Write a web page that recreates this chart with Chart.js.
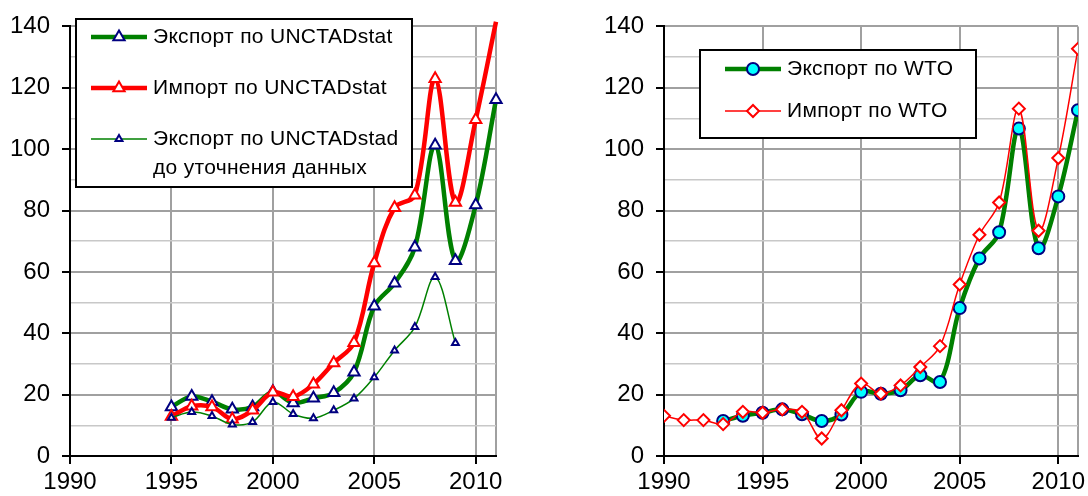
<!DOCTYPE html>
<html lang="ru">
<head>
<meta charset="UTF-8">
<title>Экспорт и импорт</title>
<script src="https://cdn.jsdelivr.net/npm/chart.js"></script>
<style>
  html, body { margin: 0; background: #ffffff; overflow: hidden; }
  .panel { position: absolute; top: 0; width: 544px; height: 496px; }
  .panel canvas { display: block; }
  #left { left: 0; }
  #right { left: 544px; }
</style>
</head>
<body>
<div class="panel" id="left"><canvas id="chartLeft" width="544" height="496"></canvas></div>
<div class="panel" id="right"><canvas id="chartRight" width="544" height="496"></canvas></div>

<script>
// ---- data ----
const yearsUnctad = [1995, 1996, 1997, 1998, 1999, 2000, 2001, 2002, 2003, 2004, 2005, 2006, 2007, 2008, 2009, 2010, 2011];
const exportUnctad = [16.0, 19.4, 17.7, 15.2, 16.0, 20.9, 17.3, 18.8, 20.6, 27.3, 48.8, 56.3, 68.0, 101.3, 63.6, 81.8, 116.1];
const importUnctad = [12.9, 16.2, 16.0, 12.0, 14.9, 20.8, 19.3, 23.4, 30.3, 36.9, 62.9, 80.9, 85.0, 122.9, 82.6, 109.6, 141.5];

const yearsOld = [1995, 1996, 1997, 1998, 1999, 2000, 2001, 2002, 2003, 2004, 2005, 2006, 2007, 2008, 2009];
const exportOld = [12.5, 14.3, 13.0, 10.3, 11.1, 17.6, 13.7, 12.3, 14.9, 18.7, 25.7, 34.4, 42.0, 58.3, 36.8];

const yearsWtoImport = [1990, 1991, 1992, 1993, 1994, 1995, 1996, 1997, 1998, 1999, 2000, 2001, 2002, 2003, 2004, 2005, 2006, 2007, 2008, 2009, 2010, 2011];
const importWto = [13.1, 11.7, 11.7, 10.4, 14.4, 14.1, 15.2, 14.4, 5.7, 14.9, 23.6, 20.3, 23.0, 29.0, 35.8, 55.9, 72.1, 82.6, 113.2, 73.4, 97.1, 132.7];

const yearsWtoExport = [1993, 1994, 1995, 1996, 1997, 1998, 1999, 2000, 2001, 2002, 2003, 2004, 2005, 2006, 2007, 2008, 2009, 2010, 2011];
const exportWto = [11.4, 13.1, 14.1, 15.2, 13.6, 11.4, 13.5, 20.9, 20.3, 21.4, 26.3, 24.1, 48.2, 64.4, 72.9, 106.7, 67.7, 84.6, 112.7];

const xTicks = [1990, 1995, 2000, 2005, 2010, 2011];
const yTicks = [0, 10, 20, 30, 40, 50, 60, 70, 80, 90, 100, 110, 120, 130, 140];

const labelsLeft = ['Экспорт по UNCTADstat', 'Импорт по UNCTADstat', ['Экспорт по UNCTADstad', 'до уточнения данных']];
const labelsRight = ['Экспорт по WTO', 'Импорт по WTO'];

const FONT = 'Arial, "Liberation Sans", sans-serif';
const GREEN = '#008000', RED = '#ff0000', NAVY = '#000080', CYAN = '#00ffff';

function pts(xs, ys) {
  return xs.map((x, i) => ({ x: x, y: ys[i] }));
}

// legend drawn inside the plot, in a framed box
const boxLegend = {
  id: 'boxLegend',
  afterDatasetsDraw(chart, args, opts) {
    const ctx = chart.ctx;
    const [l, t, r, b] = opts.box;
    ctx.save();
    ctx.fillStyle = '#ffffff';
    ctx.fillRect(l, t, r - l, b - t);
    ctx.strokeStyle = '#000000';
    ctx.lineWidth = 2;
    ctx.strokeRect(l, t, r - l, b - t);

    opts.rows.forEach(row => {
      const ds = chart.data.datasets[row.ds];
      ctx.strokeStyle = ds.borderColor;
      ctx.lineWidth = ds.borderWidth;
      ctx.beginPath();
      ctx.moveTo(opts.lineX[0], row.y);
      ctx.lineTo(opts.lineX[1], row.y);
      ctx.stroke();

      const mx = (opts.lineX[0] + opts.lineX[1]) / 2;
      ctx.fillStyle = ds.pointBackgroundColor;
      ctx.strokeStyle = ds.pointBorderColor;
      ctx.lineWidth = ds.pointBorderWidth;
      Chart.helpers.drawPoint(ctx, {
        pointStyle: ds.pointStyle, radius: ds.legendRadius,
        rotation: 0, borderWidth: ds.pointBorderWidth
      }, mx, row.y);

      ctx.fillStyle = '#000000';
      ctx.font = '21px ' + FONT;
      if ('letterSpacing' in ctx) ctx.letterSpacing = '0.3px';
      ctx.textBaseline = 'middle';
      ctx.textAlign = 'left';
      const lines = Array.isArray(ds.label) ? ds.label : [ds.label];
      lines.forEach((s, k) => ctx.fillText(s, opts.textX, row.y + k * opts.lineGap));
    });
    ctx.restore();
  }
};

function makeChart(id, datasets, yWidth, padRight, legend) {
  return new Chart(document.getElementById(id), {
    type: 'line',
    data: { datasets: datasets },
    options: {
      responsive: false,
      animation: false,
      layout: { padding: { left: 0, right: padRight, top: 25, bottom: 0 } },
      plugins: { legend: { display: false }, tooltip: { enabled: false }, boxLegend: legend },
      scales: {
        x: {
          type: 'linear', min: 1990, max: 2011,
          afterBuildTicks: s => { s.ticks = xTicks.map(v => ({ value: v })); },
          afterFit: s => { s.height = 40; },
          grid: {
            color: '#a0a0a0', lineWidth: 2, tickLength: 8, tickWidth: 2,
            tickColor: c => c.tick && c.tick.value === 2011 ? 'rgba(0,0,0,0)' : '#000000'
          },
          border: { color: '#000000', width: 2 },
          ticks: {
            color: '#000000', font: { family: FONT, size: 24 }, padding: 4,
            maxRotation: 0, autoSkip: false,
            callback: v => v === 2011 ? '' : String(v)
          }
        },
        y: {
          min: 0, max: 140,
          afterBuildTicks: s => { s.ticks = yTicks.map(v => ({ value: v })); },
          afterFit: s => { s.width = yWidth; },
          grid: {
            color: c => c.tick && c.tick.value % 20 === 0 ? '#a0a0a0' : '#c8c8c8',
            lineWidth: c => c.tick && c.tick.value % 20 === 0 ? 2 : 1.5,
            tickLength: 8, tickWidth: 2,
            tickColor: c => c.tick && c.tick.value % 20 === 0 ? '#000000' : 'rgba(0,0,0,0)'
          },
          border: { color: '#000000', width: 2 },
          ticks: {
            color: '#000000', font: { family: FONT, size: 24 }, padding: 12,
            autoSkip: false,
            callback: v => v % 20 === 0 ? String(v) : ''
          }
        }
      }
    },
    plugins: [boxLegend]
  });
}

// left panel: UNCTADstat
makeChart('chartLeft', [
  {
    label: labelsLeft[0], data: pts(yearsUnctad, exportUnctad), order: 3,
    borderColor: GREEN, borderWidth: 4.5, tension: 0.35, clip: false,
    pointStyle: 'triangle', pointRadius: 6.5, legendRadius: 6.5,
    pointBackgroundColor: '#ffffff', pointBorderColor: NAVY, pointBorderWidth: 2
  },
  {
    label: labelsLeft[1], data: pts(yearsUnctad, importUnctad), order: 2,
    borderColor: RED, borderWidth: 4.5, tension: 0.35, clip: false,
    pointStyle: 'triangle', legendRadius: 6.5,
    pointRadius: c => c.raw && c.raw.y > 140 ? 0 : 6.5,
    pointBackgroundColor: '#ffffff', pointBorderColor: RED, pointBorderWidth: 2
  },
  {
    label: labelsLeft[2], data: pts(yearsOld, exportOld), order: 1,
    borderColor: GREEN, borderWidth: 1.5, tension: 0.35,
    pointStyle: 'triangle', pointRadius: 4, legendRadius: 4,
    pointBackgroundColor: '#ffffff', pointBorderColor: NAVY, pointBorderWidth: 2
  }
], 70, 48, {
  box: [76, 19, 412, 187], lineX: [91, 147], textX: 153, lineGap: 29,
  rows: [{ ds: 0, y: 37 }, { ds: 1, y: 88 }, { ds: 2, y: 139 }]
});

// right panel: WTO
makeChart('chartRight', [
  {
    label: labelsRight[1], data: pts(yearsWtoImport, importWto), order: 1,
    borderColor: RED, borderWidth: 1.5, tension: 0.35,
    pointStyle: 'rectRot', pointRadius: 6, legendRadius: 6,
    pointBackgroundColor: '#ffffff', pointBorderColor: RED, pointBorderWidth: 2
  },
  {
    label: labelsRight[0], data: pts(yearsWtoExport, exportWto), order: 2,
    borderColor: GREEN, borderWidth: 4.5, tension: 0.35,
    pointStyle: 'circle', pointRadius: 6, legendRadius: 6,
    pointBackgroundColor: CYAN, pointBorderColor: NAVY, pointBorderWidth: 2
  }
], 120, 10, {
  box: [156, 50, 432, 138], lineX: [181, 237], textX: 243, lineGap: 0,
  rows: [{ ds: 1, y: 69 }, { ds: 0, y: 111 }]
});
</script>
</body>
</html>
